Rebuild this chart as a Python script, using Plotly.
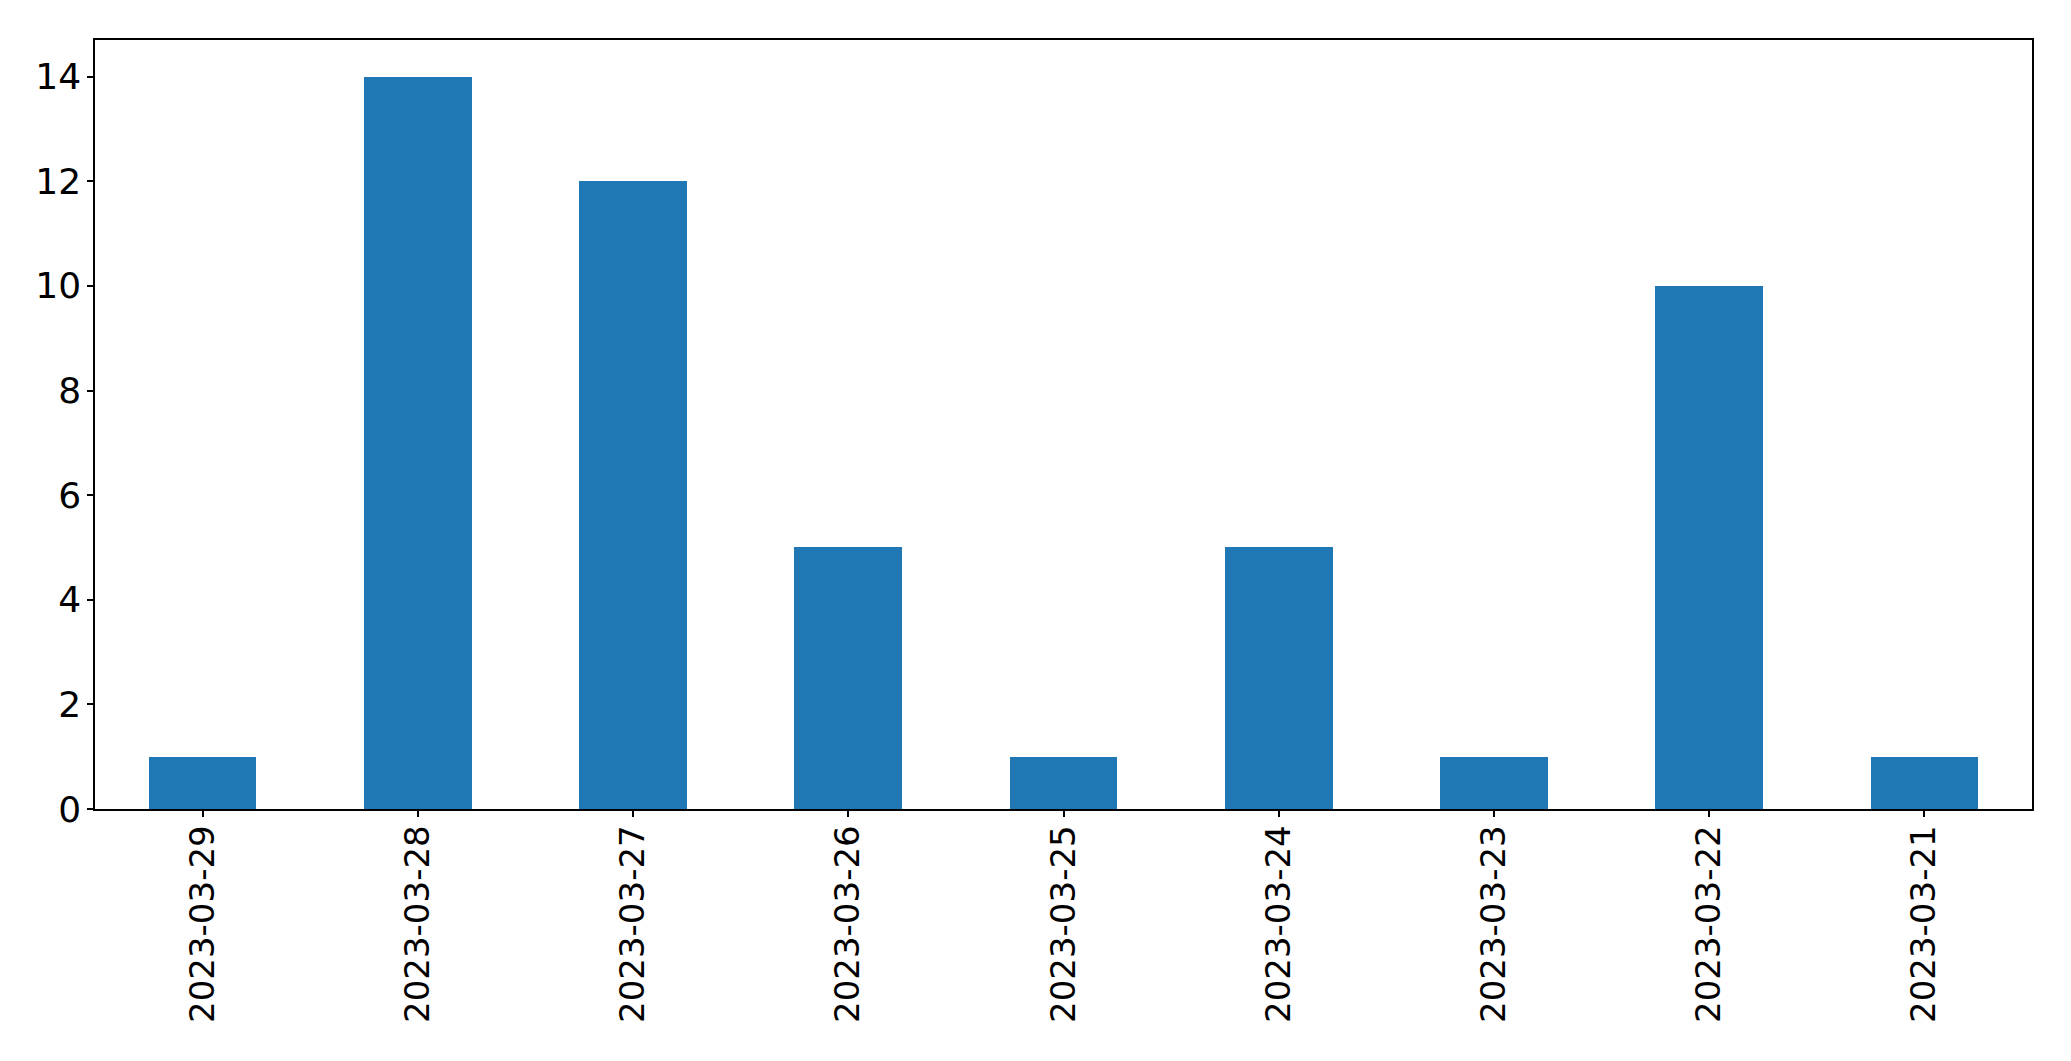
import plotly.graph_objects as go

dates = ["2023-03-29", "2023-03-28", "2023-03-27", "2023-03-26", "2023-03-25",
         "2023-03-24", "2023-03-23", "2023-03-22", "2023-03-21"]
counts = [1, 14, 12, 5, 1, 5, 1, 10, 1]
y_ticks = [0, 2, 4, 6, 8, 10, 12, 14]

fig = go.Figure(go.Bar(x=list(range(len(dates))), y=counts, width=0.5,
                       marker=dict(color="#1f77b4", line=dict(width=0))))

# page body has an 8px margin, so the figure is offset by 8px
fig.update_layout(
    width=2063, height=1053,
    margin=dict(l=87, r=39, t=32, b=252, pad=0),
    paper_bgcolor="white", plot_bgcolor="white",
    font=dict(family="DejaVu Sans", size=35, color="black"),
    showlegend=False,
    bargap=0,
)
fig.update_xaxes(
    range=[-0.5, len(dates) - 0.5],
    tickmode="array", tickvals=list(range(len(dates))), ticktext=dates,
    tickangle=-90, tickfont=dict(size=34), ticklabelstandoff=-5,
    showline=True, linecolor="black", linewidth=1.5, mirror=True,
    ticks="outside", ticklen=6, tickwidth=1.5, tickcolor="black",
    showgrid=False, zeroline=False,
)
fig.update_yaxes(
    range=[0, 14.7],
    tickmode="array", tickvals=y_ticks, tickfont=dict(size=36),
    ticklabelstandoff=-1,
    showline=True, linecolor="black", linewidth=1.5, mirror=True,
    ticks="outside", ticklen=6, tickwidth=1.5, tickcolor="black",
    showgrid=False, zeroline=False,
)

fig.write_html("out.html")
